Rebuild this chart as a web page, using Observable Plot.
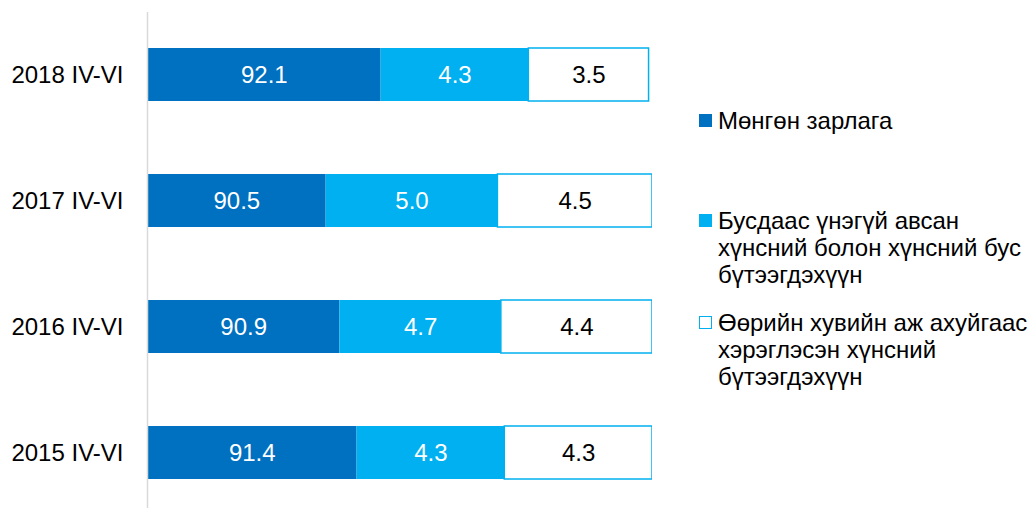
<!DOCTYPE html>
<html>
<head>
<meta charset="utf-8">
<script src="https://cdn.jsdelivr.net/npm/d3@7"></script>
<script src="https://cdn.jsdelivr.net/npm/@observablehq/plot@0.6"></script>
<style>
  html, body { margin: 0; padding: 0; background: #fff; overflow: hidden; }
  #wrap { position: relative; width: 1030px; height: 508px; font-family: "Liberation Sans", Arial, sans-serif; }
  #legend { position: absolute; left: 699px; top: 0; font-size: 24px; line-height: 27px; color: #000; }
  .item { position: absolute; left: 0; display: flex; align-items: flex-start; white-space: nowrap; }
  .sw { width: 13px; height: 13px; box-sizing: border-box; margin-top: 7px; margin-right: 6px; flex: none; }
</style>
</head>
<body>
<div id="wrap"></div>
<script>
const categories = ["2018 IV-VI", "2017 IV-VI", "2016 IV-VI", "2015 IV-VI"];
const seriesNames = [
  "Мөнгөн зарлага",
  "Бусдаас үнэгүй авсан хүнсний болон хүнсний бус бүтээгдэхүүн",
  "Өөрийн хувийн аж ахуйгаас хэрэглэсэн хүнсний бүтээгдэхүүн"
];
const legendLines = [
  ["Мөнгөн зарлага"],
  ["Бусдаас үнэгүй авсан", "хүнсний болон хүнсний бус", "бүтээгдэхүүн"],
  ["Өөрийн хувийн аж ахуйгаас", "хэрэглэсэн хүнсний", "бүтээгдэхүүн"]
];
const cash = [92.1, 90.5, 90.9, 91.4];
const freeReceived = [4.3, 5.0, 4.7, 4.3];
const ownProduced = [3.5, 4.5, 4.4, 4.3];
const xDomain = [85.3, 100];

const fills = ["#0070c0", "#00b0f0", "#ffffff"];
const strokes = ["none", "none", "#00b0f0"];
const textColors = ["#ffffff", "#ffffff", "#000000"];

const seriesValues = [cash, freeReceived, ownProduced];
const rows = [];
categories.forEach((c, i) => {
  let cum = 0;
  seriesValues.forEach((vals, s) => {
    const v = vals[i];
    rows.push({cat: c, series: seriesNames[s], s, value: v, x1: cum, x2: cum + v});
    cum += v;
  });
});

const chart = Plot.plot({
  width: 1030,
  height: 508,
  marginLeft: 147,
  marginRight: 378,
  marginTop: 12,
  marginBottom: 0,
  style: {fontFamily: "Liberation Sans, Arial, sans-serif", fontSize: "24px", color: "#000", background: "#fff"},
  x: {domain: xDomain, axis: null},
  y: {domain: categories, paddingInner: 0.58, paddingOuter: 0.258, align: 0.553, label: null},
  marks: [
    Plot.barX(rows, {
      x1: "x1", x2: "x2", y: "cat",
      fill: d => fills[d.s],
      stroke: d => strokes[d.s],
      strokeWidth: 1.5,
      clip: true
    }),
    Plot.text(rows, {
      x: d => (Math.max(d.x1, xDomain[0]) + d.x2) / 2,
      y: "cat",
      text: d => d.value.toFixed(1),
      fill: d => textColors[d.s],
      fontSize: 24,
      textAnchor: "middle"
    }),
    Plot.ruleX([xDomain[0]], {stroke: "#d9d9d9", strokeWidth: 1.5}),
    Plot.axisY({tickSize: 0, tickPadding: 24, fontSize: 24, label: null})
  ]
});
const wrap = document.getElementById("wrap");
wrap.appendChild(chart);

const legend = document.createElement("div");
legend.id = "legend";
const tops = [107, 207, 309];
legendLines.forEach((lines, s) => {
  const item = document.createElement("div");
  item.className = "item";
  item.style.top = tops[s] + "px";
  const sw = document.createElement("div");
  sw.className = "sw";
  sw.style.background = fills[s];
  if (strokes[s] !== "none") sw.style.border = "1.5px solid " + strokes[s];
  const txt = document.createElement("div");
  txt.innerHTML = lines.join("<br>");
  item.appendChild(sw);
  item.appendChild(txt);
  legend.appendChild(item);
});
wrap.appendChild(legend);
</script>
</body>
</html>
